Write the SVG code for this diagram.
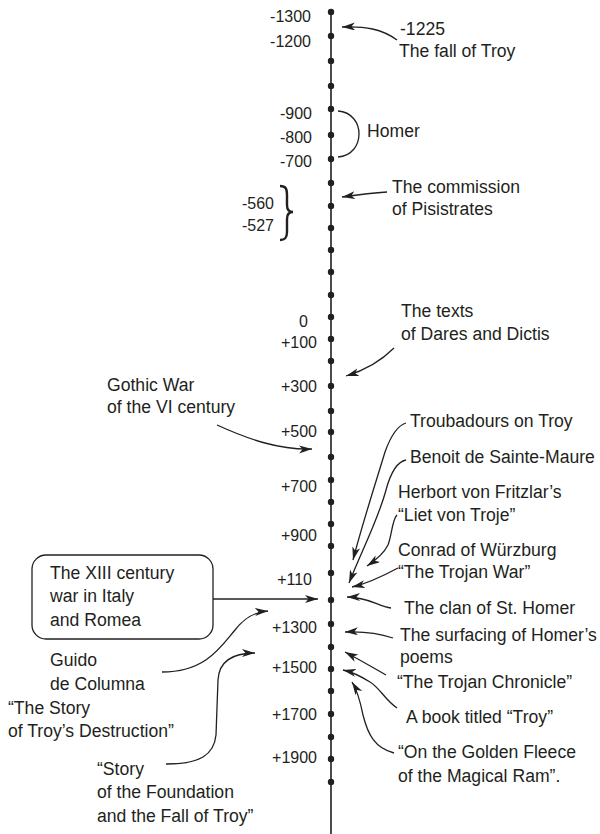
<svg xmlns="http://www.w3.org/2000/svg" width="600" height="834" viewBox="0 0 600 834">
<style>
text{font-family:"Liberation Sans",Arial,sans-serif;fill:#231f20}
.lb{font-size:17.6px}
.nm{font-size:16px;text-anchor:end}
.c{fill:none;stroke:#231f20;stroke-width:1.3}
.ax{stroke:#231f20;stroke-width:1.6}
.dot{fill:#231f20}
</style>
<defs>
<marker id="ah" markerUnits="userSpaceOnUse" markerWidth="14" markerHeight="10" refX="13" refY="4" orient="auto">
<path d="M0,0 L13,4 L0,8 L3.5,4 Z" fill="#231f20"/>
</marker>
</defs>
<rect width="600" height="834" fill="#fff"/>
<g id="axis">
<line class="ax" x1="331" y1="10" x2="331" y2="834"/>
<g class="dot">
<circle cx="331" cy="12" r="3.2"/><circle cx="331" cy="36" r="3.2"/><circle cx="331" cy="61" r="3.2"/><circle cx="331" cy="86" r="3.2"/><circle cx="331" cy="109" r="3.2"/><circle cx="331" cy="135" r="3.2"/><circle cx="331" cy="159" r="3.2"/><circle cx="331" cy="183" r="3.2"/><circle cx="331" cy="206" r="3.2"/><circle cx="331" cy="228" r="3.2"/><circle cx="331" cy="250" r="3.2"/><circle cx="331" cy="272" r="3.2"/><circle cx="331" cy="295" r="3.2"/><circle cx="331" cy="317" r="3.2"/><circle cx="331" cy="339" r="3.2"/><circle cx="331" cy="361" r="3.2"/><circle cx="331" cy="386" r="3.2"/><circle cx="331" cy="411" r="3.2"/><circle cx="331" cy="432" r="3.2"/><circle cx="331" cy="457" r="3.2"/><circle cx="331" cy="480" r="3.2"/><circle cx="331" cy="502" r="3.2"/><circle cx="331" cy="524" r="3.2"/><circle cx="331" cy="546" r="3.2"/><circle cx="331" cy="573" r="3.2"/><circle cx="331" cy="600" r="3.2"/><circle cx="331" cy="624" r="3.2"/><circle cx="331" cy="647" r="3.2"/><circle cx="331" cy="669" r="3.2"/><circle cx="331" cy="691" r="3.2"/><circle cx="331" cy="714" r="3.2"/><circle cx="331" cy="737" r="3.2"/><circle cx="331" cy="759" r="3.2"/><circle cx="331" cy="782" r="3.2"/>
</g>
<g id="years">
<text class="nm" x="311" y="22">-1300</text>
<text class="nm" x="311" y="47">-1200</text>
<text class="nm" x="312" y="119">-900</text>
<text class="nm" x="312" y="143">-800</text>
<text class="nm" x="312" y="167">-700</text>
<text class="nm" x="274" y="209">-560</text>
<text class="nm" x="274" y="231">-527</text>
<text class="nm" x="308" y="327">0</text>
<text class="nm" x="317" y="348">+100</text>
<text class="nm" x="317" y="392">+300</text>
<text class="nm" x="317" y="437">+500</text>
<text class="nm" x="317" y="492">+700</text>
<text class="nm" x="317" y="541">+900</text>
<text class="nm" x="312" y="585">+110</text>
<text class="nm" x="317" y="633">+1300</text>
<text class="nm" x="317" y="673">+1500</text>
<text class="nm" x="317" y="720">+1700</text>
<text class="nm" x="317" y="763">+1900</text>
</g>
</g>
<g id="brace-pisistrates"><path d="M280,186 C286,186 287,189 287,195 L287,205 C287,209 289,212 293,212 C289,212 287,215 287,219 L287,232 C287,238 285,240 280,240" fill="none" stroke="#231f20" stroke-width="2.4"/></g>
<g id="fall-of-troy"><text class="lb" x="400" y="35">-1225</text><text class="lb" x="399" y="57">The fall of Troy</text></g>
<g id="homer"><path class="c" d="M338,111 C366,113 366,155 338,157"/><text class="lb" x="367" y="137">Homer</text></g>
<g id="commission"><text class="lb" x="392" y="193">The commission</text><text class="lb" x="392" y="215">of Pisistrates</text></g>
<g id="dares"><text class="lb" x="401" y="317">The texts</text><text class="lb" x="401" y="340">of Dares and Dictis</text></g>
<g id="gothic"><text class="lb" x="107" y="391">Gothic War</text><text class="lb" x="107" y="413">of the VI century</text></g>
<g id="troubadours"><text class="lb" x="410" y="427">Troubadours on Troy</text></g>
<g id="benoit"><text class="lb" x="410" y="463">Benoit de Sainte-Maure</text></g>
<g id="herbort"><text class="lb" x="398" y="498">Herbort von Fritzlar’s</text><text class="lb" x="398" y="521">“Liet von Troje”</text></g>
<g id="conrad"><text class="lb" x="398" y="556">Conrad of Würzburg</text><text class="lb" x="398" y="578">“The Trojan War”</text></g>
<g id="clan"><text class="lb" x="404" y="614">The clan of St. Homer</text></g>
<g id="xiii-war"><rect x="32" y="555" width="181" height="84" rx="14" fill="none" stroke="#231f20" stroke-width="1.3"/><text class="lb" x="50" y="579">The XIII century</text><text class="lb" x="50" y="602">war in Italy</text><text class="lb" x="50" y="626">and Romea</text></g>
<g id="guido"><text class="lb" x="50" y="666">Guido</text><text class="lb" x="50" y="690">de Columna</text><text class="lb" x="8" y="714">“The Story</text><text class="lb" x="8" y="737">of Troy’s Destruction”</text></g>
<g id="story-foundation"><text class="lb" x="97" y="775">“Story</text><text class="lb" x="97" y="798">of the Foundation</text><text class="lb" x="97" y="822">and the Fall of Troy”</text></g>
<g id="surfacing"><text class="lb" x="400" y="641">The surfacing of Homer’s</text><text class="lb" x="400" y="663">poems</text></g>
<g id="chronicle"><text class="lb" x="397" y="688">“The Trojan Chronicle”</text></g>
<g id="book-troy"><text class="lb" x="406" y="723">A book titled “Troy”</text></g>
<g id="golden-fleece"><text class="lb" x="398" y="758">“On the Golden Fleece</text><text class="lb" x="398" y="782">of the Magical Ram”.</text></g>
<g id="connectors" marker-end="url(#ah)">
<path class="c" marker-end="url(#ah)" d="M397,40 C382,29 365,26 342,27"/>
<path class="c" marker-end="url(#ah)" d="M387,192 C370,193 356,195 342,197"/>
<path class="c" marker-end="url(#ah)" d="M394,348 C382,360 366,370 346,376"/>
<path class="c" marker-end="url(#ah)" d="M217,425 C250,440 280,450 312,449"/>
<path class="c" marker-end="url(#ah)" d="M406,423 C396,426 390,438 385,452 C375,485 362,525 353,560"/>
<path class="c" marker-end="url(#ah)" d="M406,460 C396,462 390,475 386,490 C378,520 362,550 349,583"/>
<path class="c" marker-end="url(#ah)" d="M397,515 C392,520 392,535 388,545 C384,553 376,560 367,566"/>
<path class="c" marker-end="url(#ah)" d="M398,568 C385,575 370,583 352,587"/>
<path class="c" marker-end="url(#ah)" d="M391,608 C378,606 368,597 347,597"/>
<path class="c" marker-end="url(#ah)" d="M213,599 L318,599"/>
<path class="c" marker-end="url(#ah)" d="M162,672 C205,672 220,648 235,630 C245,617 255,612 268,611"/>
<path class="c" marker-end="url(#ah)" d="M166,764 C200,764 214,755 216,735 L218,680 C219,662 232,653 255,653"/>
<path class="c" marker-end="url(#ah)" d="M393,638 C378,633 365,631 345,632"/>
<path class="c" marker-end="url(#ah)" d="M386,675 C372,667 360,660 345,652"/>
<path class="c" marker-end="url(#ah)" d="M397,708 C385,700 380,688 370,682 C362,677 352,672 343,670"/>
<path class="c" marker-end="url(#ah)" d="M394,753 C375,748 368,735 363,715 C360,700 357,690 352,682"/>
</g>
</svg>
